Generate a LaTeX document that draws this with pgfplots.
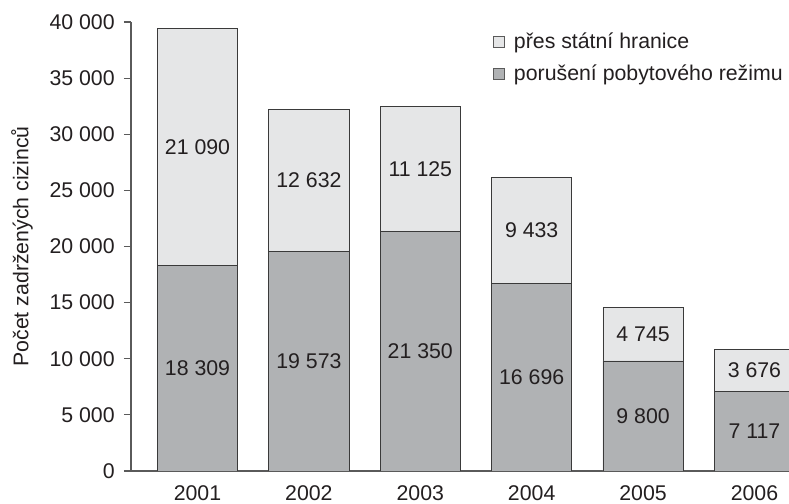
\documentclass[border=0pt]{standalone}
\usepackage{fontspec}
\setmainfont{Liberation Sans}
\usepackage{pgfplots}
\usepackage{pgfplotstable}
\pgfplotsset{compat=1.18}

\definecolor{lightbar}{HTML}{E5E6E7}
\definecolor{darkbar}{HTML}{B0B2B4}
\definecolor{edge}{HTML}{3A3A3A}
\definecolor{axisgray}{HTML}{5A5A5A}
\definecolor{txt}{HTML}{231F20}

\pgfkeys{/pgf/number format/.cd, 1000 sep={\ }, assume math mode=true}

% zadržení cizinci: porušení pobytového režimu (low), přes státní hranice (high)
\pgfplotstableread{
x year low high
0 2001 18309 21090
1 2002 19573 12632
2 2003 21350 11125
3 2004 16696 9433
4 2005 9800 4745
5 2006 7117 3676
}\zadrzeni

\pgfplotsset{
  base/.style={scale only axis, width=658bp, height=449bp,
    xmin=-0.597, xmax=5.31, ymin=0, ymax=40000},
  sq/.style={legend image code/.code={
    \draw[##1, draw=axisgray, line width=0.8bp] (0bp,-5.5bp) rectangle (11bp,5.5bp);}},
}

\begin{document}
\fontsize{21.3bp}{24bp}\selectfont
\begin{tikzpicture}
\begin{axis}[base,
    ybar stacked, bar width=0.72,
    axis x line=bottom, axis y line=left,
    axis line style={-, draw=axisgray, line width=1.2bp},
    ytick={0,5000,10000,15000,20000,25000,30000,35000,40000},
    scaled y ticks=false,
    xtick={0,1,2,3,4,5},
    xticklabels={2001,2002,2003,2004,2005,2006},
    tick align=outside, major tick length=7bp,
    y tick style={draw=axisgray, line width=1.2bp},
    x tick style={draw=none},
    every tick label/.append style={text=txt},
    y tick label style={xshift=-2bp},
    ylabel={Počet zadržených cizinců},
    y label style={at={(axis description cs:-0.1657,0.5)}, anchor=center, text=txt},
    legend style={at={(rel axis cs:0.5456,0.985)}, anchor=north west,
      draw=none, fill=none, row sep=9bp, text=txt,
      cells={anchor=west},
      /tikz/every odd column/.append style={column sep=7bp}},
    reverse legend,
  ]
  \addplot[sq, fill=darkbar, draw=edge, line width=0.9bp]
    table[x=x, y=low] {\zadrzeni};
  \addlegendentry{porušení pobytového režimu}
  \addplot[sq, fill=lightbar, draw=edge, line width=0.9bp]
    table[x=x, y=high] {\zadrzeni};
  \addlegendentry{přes státní hranice}
\end{axis}
\begin{axis}[base, hide axis,
    every node near coord/.append style={anchor=center, text=txt}]
  \addplot[draw=none, nodes near coords, point meta=\thisrow{low}]
    table[x=x, y expr=\thisrow{low}/2] {\zadrzeni};
  \addplot[draw=none, nodes near coords, point meta=\thisrow{high}]
    table[x=x, y expr=\thisrow{low}+\thisrow{high}/2] {\zadrzeni};
\end{axis}
\pgfresetboundingbox
\path (-131bp,-33bp) rectangle (658bp,471bp);
\end{tikzpicture}
\end{document}
